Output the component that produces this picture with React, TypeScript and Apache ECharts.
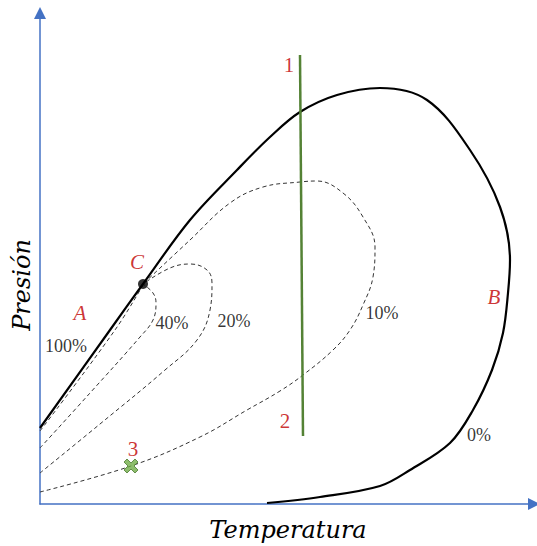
import React, { useEffect, useRef } from "react";
import * as echarts from "echarts";

// Coordinates: T = temperature units from the origin, P = pressure units from the origin
const envelope: [number, number][] = [
  [0, 76], [70, 174], [103, 220], [150, 284], [197, 334], [230, 367], [260, 392],
  [297, 409], [340, 416], [387, 404], [430, 354], [460, 297], [470, 244], [468, 211],
  [463, 171], [452, 134], [433, 94], [410, 61], [370, 34], [340, 18], [280, 7], [227, 1],
];
const curveNear100: [number, number][] = [[0, 73], [75, 174], [103, 219]];
const curve40: [number, number][] = [
  [0, 56], [50, 111], [100, 167], [113, 184], [116, 201], [113, 211], [103, 220],
];
const curve20: [number, number][] = [
  [0, 31], [60, 80], [125, 134], [157, 164], [170, 194], [172, 221], [167, 234],
  [150, 240], [130, 236], [103, 220],
];
const curve10: [number, number][] = [
  [0, 12], [91, 38], [160, 67], [207, 94], [240, 113], [263, 129], [293, 154],
  [310, 174], [323, 199], [333, 227], [335, 257], [323, 287], [303, 311], [277, 323],
  [260, 322], [223, 317], [190, 301], [150, 264], [103, 220],
];
const isothermLine: [number, number][] = [[260, 449], [263, 68]];
const criticalPoint: [number, number][] = [[103, 220]];
const point3: [number, number][] = [[91, 38]];

const redItalicLabels: [string, number, number][] = [
  ["A", 40, 191], ["B", 454, 207], ["C", 97, 242],
];
const redNumberLabels: [string, number, number][] = [
  ["1", 249, 439], ["2", 245, 83], ["3", 93, 55],
];
const percentLabels: [string, number, number][] = [
  ["100%", 26, 158], ["40%", 132, 181], ["20%", 194, 183], ["10%", 342, 191], ["0%", 439, 69],
];

const xTitle = "Temperatura";
const yTitle = "Presión";

const RED = "#C00000";
const X_PATH =
  "path://M0,3 L3,0 L7,4 L11,0 L14,3 L10,7 L14,11 L11,14 L7,10 L3,14 L0,11 L4,7 Z";

function labelSeries(items: [string, number, number][], style: any) {
  return {
    type: "scatter",
    symbol: "circle",
    symbolSize: 0,
    silent: true,
    itemStyle: { color: "transparent" },
    data: items.map(([n, t, p]) => ({ name: n, value: [t, p] })),
    label: {
      show: true,
      position: [0, 0],
      align: "center",
      verticalAlign: "middle",
      formatter: (p: any) => p.name,
      textBorderWidth: 0,
      ...style,
    },
    z: 10,
  };
}

export default function App() {
  const ref = useRef<HTMLDivElement>(null);
  useEffect(() => {
    if (!ref.current) return;
    const chart = echarts.init(ref.current, undefined, { renderer: "svg" });
    const dashed = (data: [number, number][]) => ({
      type: "line",
      data,
      smooth: 0.4,
      symbol: "none",
      silent: true,
      lineStyle: { color: "#333", width: 1, type: [4, 3] },
    });
    chart.setOption({
      animation: false,
      backgroundColor: "#fff",
      grid: { left: 40, right: 3, top: 13, bottom: 42 },
      xAxis: {
        type: "value",
        min: 0,
        max: 494,
        axisLine: {
          show: true,
          symbol: ["none", "triangle"],
          symbolSize: [12, 12],
          lineStyle: { color: "#4472C4", width: 1.5 },
        },
        axisTick: { show: false },
        axisLabel: { show: false },
        splitLine: { show: false },
      },
      yAxis: {
        type: "value",
        min: 0,
        max: 491,
        axisLine: {
          show: true,
          symbol: ["none", "triangle"],
          symbolSize: [12, 12],
          lineStyle: { color: "#4472C4", width: 1.5 },
        },
        axisTick: { show: false },
        axisLabel: { show: false },
        splitLine: { show: false },
      },
      graphic: [
        {
          type: "text",
          x: 288,
          y: 530,
          style: {
            text: xTitle,
            font: "italic 24px 'DejaVu Serif'",
            fill: "#000",
            align: "center",
            verticalAlign: "middle",
          },
        },
        {
          type: "text",
          x: 22,
          y: 285,
          rotation: Math.PI / 2,
          style: {
            text: yTitle,
            font: "italic 24px 'DejaVu Serif'",
            fill: "#000",
            align: "center",
            verticalAlign: "middle",
          },
        },
      ],
      series: [
        dashed(curveNear100),
        dashed(curve40),
        dashed(curve20),
        dashed(curve10),
        {
          type: "line",
          data: envelope,
          smooth: 0.35,
          symbol: "none",
          silent: true,
          lineStyle: { color: "#000", width: 2.2 },
          z: 3,
        },
        {
          type: "line",
          data: isothermLine,
          symbol: "none",
          silent: true,
          lineStyle: { color: "#548235", width: 2.5 },
          z: 4,
        },
        {
          type: "scatter",
          data: criticalPoint,
          symbol: "circle",
          symbolSize: 10,
          silent: true,
          itemStyle: { color: "#000" },
          z: 5,
        },
        {
          type: "scatter",
          data: point3,
          symbol: X_PATH,
          symbolSize: 14,
          silent: true,
          itemStyle: { color: "#70AD47", borderColor: "#4a7a2e", borderWidth: 1 },
          z: 5,
        },
        labelSeries(redItalicLabels, {
          color: RED,
          fontFamily: "Liberation Serif",
          fontStyle: "italic",
          fontSize: 21,
        }),
        labelSeries(redNumberLabels, {
          color: RED,
          fontFamily: "Liberation Serif",
          fontSize: 21,
        }),
        labelSeries(percentLabels, {
          color: "#000",
          fontFamily: "Liberation Serif",
          fontSize: 18,
        }),
      ],
    });
    return () => chart.dispose();
  }, []);
  return (
    <div
      ref={ref}
      style={{ position: "fixed", left: 0, top: 0, width: 537, height: 546, background: "#fff" }}
    />
  );
}
